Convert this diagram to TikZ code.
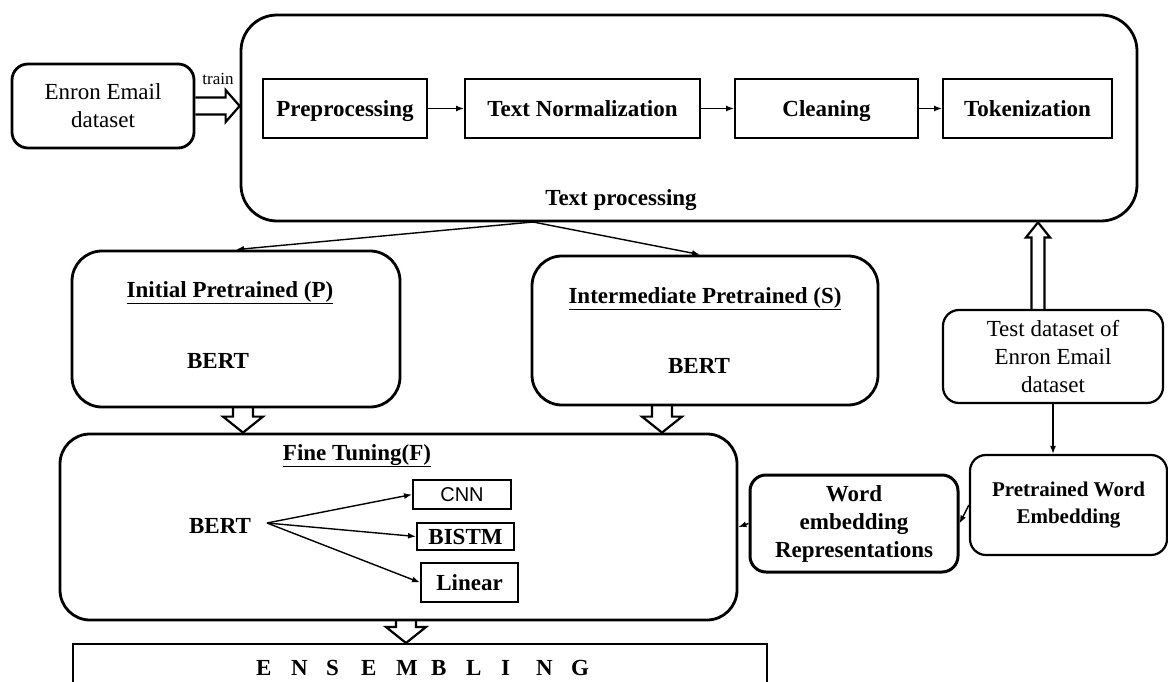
\documentclass[tikz,border=0pt]{standalone}
\usepackage{fontspec}
\setmainfont{Liberation Serif}
\newfontfamily\sansf{Liberation Sans}
\usetikzlibrary{arrows.meta,calc}
\newcommand{\bigfont}{\fontsize{23}{28}\selectfont}
\newcommand{\lt}[1]{\makebox[35pt][l]{#1}}
% hollow block arrows, #1 = start coordinate, #2 = tip coordinate
\newcommand{\blockdown}[2]{%
  \draw[blk] let \p1=(#1), \p2=(#2) in
    (\x2-10pt,\y1) -- (\x2-10pt,\y2+16pt) -- (\x2-20pt,\y2+16pt) -- (\x2,\y2)
    -- (\x2+20pt,\y2+16pt) -- (\x2+10pt,\y2+16pt) -- (\x2+10pt,\y1);}
\newcommand{\blockup}[2]{%
  \draw[blk] let \p1=(#1), \p2=(#2) in
    (\x2-6.5pt,\y1) -- (\x2-6.5pt,\y2-15pt) -- (\x2-12pt,\y2-15pt) -- (\x2,\y2)
    -- (\x2+12pt,\y2-15pt) -- (\x2+6.5pt,\y2-15pt) -- (\x2+6.5pt,\y1);}
\newcommand{\blockright}[2]{%
  \draw[blk] let \p1=(#1), \p2=(#2) in
    (\x1,\y2+8.5pt) -- (\x2-14pt,\y2+8.5pt) -- (\x2-14pt,\y2+16pt) -- (\x2,\y2)
    -- (\x2-14pt,\y2-16pt) -- (\x2-14pt,\y2-8.5pt) -- (\x1,\y2-8.5pt);}
\begin{document}
\begin{tikzpicture}[x=1pt,y=-1pt,
  every node/.style={font=\bigfont, align=center, inner sep=0pt},
  rbox/.style={draw, line width=2.8pt, rounded corners=#1},
  rbox/.default=16pt,
  stepbox/.style={draw, line width=2pt, font=\bigfont\bfseries, text height=19pt, text depth=2pt},
  smallbox/.style={draw, line width=2pt},
  conn/.style={line width=1.4pt, -{Latex[length=8pt,width=6pt]}},
  blk/.style={line width=2.2pt, line join=miter},
  lbl/.style={font=\bigfont\bfseries}]
\useasboundingbox (0,0) rectangle (1168,682);

% Enron dataset
\node[rbox, minimum width=182pt, minimum height=84pt] (EE) at (103,106) {Enron Email\\dataset};
% Text processing big box
\node[rbox=36pt, minimum width=896pt, minimum height=206pt] (TP) at (689,118) {};
\node[stepbox, minimum width=164pt, minimum height=59pt] (S1) at (345,108.5) {Preprocessing};
\node[stepbox, minimum width=235pt, minimum height=59pt] (S2) at (582.5,108.5) {Text Normalization};
\node[stepbox, minimum width=183pt, minimum height=59pt] (S3) at (826.5,108.5) {Cleaning};
\node[stepbox, minimum width=169pt, minimum height=59pt] (S4) at (1027.5,108.5) {Tokenization};
\node[lbl, anchor=base] (TPL) at (621,206) {Text processing};
\draw[conn] (S1) -- (S2);
\draw[conn] (S2) -- (S3);
\draw[conn] (S3) -- (S4);

% train arrow
\node[font=\fontsize{17}{20}\selectfont, anchor=base] (TR) at (218,85) {train};
\blockright{EE.east}{TP.west |- EE.east}

% pretrained boxes
\node[rbox=30pt, minimum width=328pt, minimum height=156pt] (P) at (236,329) {};
\node[lbl, anchor=base] (PT) at (230,297) {\underline{Initial Pretrained (P)}};
\node[lbl, anchor=base] (PB) at (218,368) {BERT};
\node[rbox=30pt, minimum width=346pt, minimum height=149pt] (S) at (705,330.5) {};
\node[lbl, anchor=base] (ST) at (705,303) {\underline{Intermediate Pretrained (S)}};
\node[lbl, anchor=base] (SB) at (699,373) {BERT};

\coordinate (TPo) at (533,222);
\coordinate (Sx) at (700,0);
\draw[conn] (TPo) -- (P.north);
\draw[conn] (TPo) -- (Sx |- S.north);

% fine tuning
\node[rbox=30pt, minimum width=677pt, minimum height=186pt] (FT) at (398.5,527) {};
\node[lbl, anchor=base] (FTT) at (357,460) {\underline{Fine Tuning(F)}};
\node[lbl, anchor=base] (FB) at (220,533) {BERT};
\coordinate (FBo) at (267,523);
\node[smallbox, minimum width=98pt, minimum height=29pt, font=\sansf\fontsize{20}{24}\selectfont] (CNN) at (462,494.5) {CNN};
\node[smallbox, minimum width=97pt, minimum height=27pt, font=\bigfont\bfseries] (BI) at (465.5,536.5) {BISTM};
\node[smallbox, minimum width=97pt, minimum height=39pt, font=\bigfont\bfseries] (LI) at (469.5,582.5) {Linear};
\draw[conn] (FBo) -- (CNN.west);
\draw[conn] (FBo) -- (BI.west);
\draw[conn] (FBo) -- (LI.west);

\coordinate (Pd) at (243,407);
\coordinate (Sd) at (662,405);
\blockdown{Pd}{Pd |- FT.north}
\blockdown{Sd}{Sd |- FT.north}

% ensembling
\node[draw, line width=2pt, minimum width=694pt, minimum height=44pt] (EN) at (420,666) {};
\node[lbl, anchor=base west] (ENT) at (256,675) {\lt{E}\lt{N}\lt{S}\lt{E}\lt{M}\lt{B}\lt{L}\lt{I}\lt{N}G};
\coordinate (Fd) at (406,620);
\blockdown{Fd}{Fd |- EN.north}

% test dataset side
\node[rbox, line width=2.2pt, minimum width=220pt, minimum height=93pt] (TD) at (1053,356.5) {Test dataset of\\Enron Email\\dataset};
\coordinate (TDu) at (1038,310);
\blockup{TDu}{TDu |- TP.south}
\node[rbox, line width=2.2pt, minimum width=197pt, minimum height=100pt, font=\fontsize{21}{27}\selectfont\bfseries] (PWE) at (1068.5,505) {Pretrained Word\\Embedding};
\draw[conn] (TD.south) -- (TD.south |- PWE.north);
\node[rbox, line width=3pt, minimum width=208pt, minimum height=97pt, font=\bigfont\bfseries] (WE) at (854,523.5) {Word\\embedding\\Representations};
\draw[conn] (PWE.west) -- (WE.east);
\draw[conn] (WE.west) -- (FT.east);
\end{tikzpicture}
\end{document}
